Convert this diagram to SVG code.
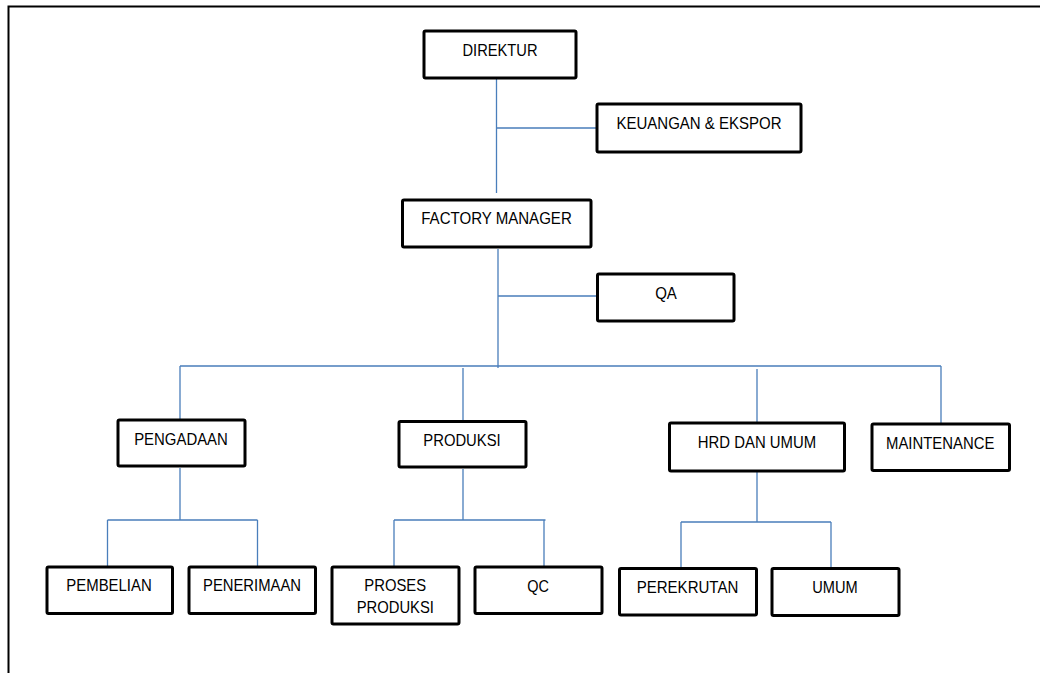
<svg xmlns="http://www.w3.org/2000/svg" width="1040" height="673" viewBox="0 0 1040 673">
<style>
.box{fill:#fff;stroke:#000;stroke-width:3;}
.lbl{font-family:"Liberation Sans",Arial,sans-serif;font-size:16.5px;fill:#000;text-anchor:middle;}
.con{fill:none;stroke:#4a7ebb;stroke-width:1.3;}
</style>
<rect width="1040" height="673" fill="#fff"/>
<path d="M8.5 673 V6.5 H1040" fill="none" stroke="#000" stroke-width="2"/>
<g id="connectors" class="con">
<path d="M496.5 79 V193 M496.5 128 H596"/>
<path d="M498 249 V368 M498 296 H596"/>
<path d="M180 366 H941 M180 366 V419 M463 368 V420 M757 369 V422 M941 366 V423"/>
<path d="M180 468 V520 M107.5 520 H257.5 M107.5 520 V566 M257.5 520 V566"/>
<path d="M463 469 V520 M394 520 H545.5 M394 520 V566 M544 520 V566"/>
<path d="M757 472 V522 M681 522 H831 M681 522 V567 M831 522 V567"/>
</g>
<g id="direktur"><rect class="box" x="424" y="31" width="152" height="47" rx="1.5"/><text class="lbl" x="500" y="55.5" textLength="75" lengthAdjust="spacingAndGlyphs">DIREKTUR</text></g>
<g id="keuangan"><rect class="box" x="597" y="104" width="204" height="48" rx="1.5"/><text class="lbl" x="699" y="129" textLength="165" lengthAdjust="spacingAndGlyphs">KEUANGAN &amp; EKSPOR</text></g>
<g id="factory-manager"><rect class="box" x="402.5" y="200" width="188.5" height="47" rx="1.5"/><text class="lbl" x="496.5" y="224" textLength="150.5" lengthAdjust="spacingAndGlyphs">FACTORY MANAGER</text></g>
<g id="qa"><rect class="box" x="597.5" y="274" width="136.5" height="47" rx="1.5"/><text class="lbl" x="666" y="299" textLength="21.7" lengthAdjust="spacingAndGlyphs">QA</text></g>
<g id="pengadaan"><rect class="box" x="118" y="420" width="127" height="46" rx="1.5"/><text class="lbl" x="181" y="444.5" textLength="93.7" lengthAdjust="spacingAndGlyphs">PENGADAAN</text></g>
<g id="produksi"><rect class="box" x="399" y="421.5" width="127" height="45.5" rx="1.5"/><text class="lbl" x="462" y="446" textLength="77.4" lengthAdjust="spacingAndGlyphs">PRODUKSI</text></g>
<g id="hrd"><rect class="box" x="669.5" y="423" width="175" height="48" rx="1.5"/><text class="lbl" x="757" y="448.3" textLength="118.3" lengthAdjust="spacingAndGlyphs">HRD DAN UMUM</text></g>
<g id="maintenance"><rect class="box" x="872" y="424" width="137.5" height="46.5" rx="1.5"/><text class="lbl" x="940.2" y="449" textLength="108.3" lengthAdjust="spacingAndGlyphs">MAINTENANCE</text></g>
<g id="pembelian"><rect class="box" x="47" y="567" width="125.5" height="46.5" rx="1.5"/><text class="lbl" x="109" y="591" textLength="85.4" lengthAdjust="spacingAndGlyphs">PEMBELIAN</text></g>
<g id="penerimaan"><rect class="box" x="189" y="567" width="126.5" height="46.5" rx="1.5"/><text class="lbl" x="252" y="591" textLength="98" lengthAdjust="spacingAndGlyphs">PENERIMAAN</text></g>
<g id="proses-produksi"><rect class="box" x="332" y="567" width="127" height="57" rx="1.5"/><text class="lbl" x="395.2" y="590.7" textLength="61.7" lengthAdjust="spacingAndGlyphs">PROSES</text><text class="lbl" x="395.3" y="613.3" textLength="77.3" lengthAdjust="spacingAndGlyphs">PRODUKSI</text></g>
<g id="qc"><rect class="box" x="475" y="567" width="127" height="46.5" rx="1.5"/><text class="lbl" x="538.2" y="591.7" textLength="21.7" lengthAdjust="spacingAndGlyphs">QC</text></g>
<g id="perekrutan"><rect class="box" x="619.5" y="568.5" width="137" height="46.5" rx="1.5"/><text class="lbl" x="687.5" y="592.7" textLength="101.6" lengthAdjust="spacingAndGlyphs">PEREKRUTAN</text></g>
<g id="umum"><rect class="box" x="772" y="568.5" width="127" height="47" rx="1.5"/><text class="lbl" x="835" y="592.7" textLength="45.4" lengthAdjust="spacingAndGlyphs">UMUM</text></g>
</svg>
